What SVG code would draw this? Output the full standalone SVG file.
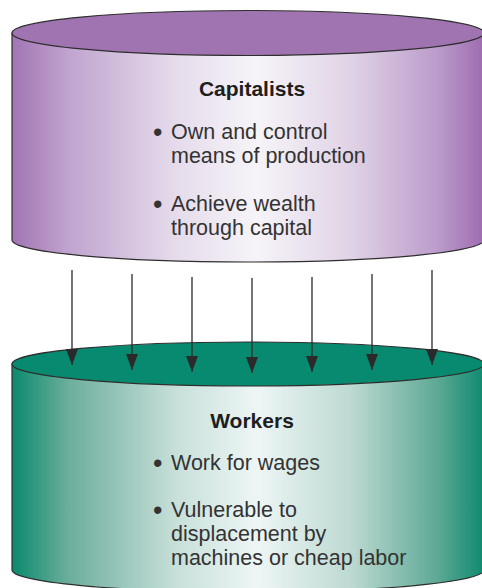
<svg xmlns="http://www.w3.org/2000/svg" width="482" height="588" viewBox="0 0 482 588">
<defs>
<linearGradient id="gp" x1="12" y1="0" x2="484" y2="0" gradientUnits="userSpaceOnUse">
<stop offset="0" stop-color="#a274b4"/>
<stop offset="0.12" stop-color="#c0a4cf"/>
<stop offset="0.35" stop-color="#e6dcec"/>
<stop offset="0.52" stop-color="#f6f4f8"/>
<stop offset="0.72" stop-color="#e0d2e6"/>
<stop offset="0.9" stop-color="#bc9ccb"/>
<stop offset="1" stop-color="#9e6cb0"/>
</linearGradient>
<linearGradient id="gg" x1="12" y1="0" x2="484" y2="0" gradientUnits="userSpaceOnUse">
<stop offset="0" stop-color="#0a8a6e"/>
<stop offset="0.12" stop-color="#6cae9c"/>
<stop offset="0.35" stop-color="#c8e0da"/>
<stop offset="0.52" stop-color="#eef6f5"/>
<stop offset="0.72" stop-color="#bcd9d1"/>
<stop offset="0.9" stop-color="#5ea996"/>
<stop offset="1" stop-color="#0e8b70"/>
</linearGradient>
<marker id="ah" viewBox="0 0 16 12" refX="16" refY="6" markerWidth="16" markerHeight="12" markerUnits="userSpaceOnUse" orient="auto">
<path d="M0,0 L16,6 L0,12 Z" fill="#2a2a2a"/>
</marker>
<style>
.body{stroke:#2e2e2e;stroke-width:1.2}
.t{font-family:"Liberation Sans",Arial,sans-serif;font-size:21.5px;fill:#333}
.b{font-family:"Liberation Sans",Arial,sans-serif;font-size:27px;fill:#333}
.h{font-family:"Liberation Sans",Arial,sans-serif;font-size:21px;font-weight:bold;fill:#1e1e1e;text-anchor:middle}
.c line{stroke:#2a2a2a;stroke-width:1.3}
</style>
</defs>
<g id="capitalists">
<path class="body" d="M12,33 L12,240 A236,22 0 0 0 484,240 L484,33 Z" fill="url(#gp)"/>
<ellipse class="body" cx="248" cy="33" rx="236" ry="22.5" fill="#a074b1"/>
<text class="h" x="252" y="96">Capitalists</text>
<text class="b" x="153" y="141">•</text>
<text class="t" x="171" y="139">Own and control</text>
<text class="t" x="171" y="163">means of production</text>
<text class="b" x="153" y="213">•</text>
<text class="t" x="171" y="211">Achieve wealth</text>
<text class="t" x="171" y="235">through capital</text>
</g>
<g id="workers">
<path class="body" d="M12,364 L12,570 A236,22 0 0 0 484,570 L484,364 Z" fill="url(#gg)"/>
<ellipse class="body" cx="248" cy="364" rx="236" ry="22" fill="#078a6f"/>
<text class="h" x="252" y="428">Workers</text>
<text class="b" x="153" y="472">•</text>
<text class="t" x="171" y="470">Work for wages</text>
<text class="b" x="153" y="519">•</text>
<text class="t" x="171" y="517">Vulnerable to</text>
<text class="t" x="171" y="541">displacement by</text>
<text class="t" x="171" y="565">machines or cheap labor</text>
</g>
<g id="connectors" class="c">
<line x1="72" y1="270" x2="72" y2="365" marker-end="url(#ah)"/>
<line x1="132" y1="274" x2="132" y2="370" marker-end="url(#ah)"/>
<line x1="192" y1="277" x2="192" y2="372" marker-end="url(#ah)"/>
<line x1="252" y1="278" x2="252" y2="373" marker-end="url(#ah)"/>
<line x1="312" y1="277" x2="312" y2="372" marker-end="url(#ah)"/>
<line x1="372" y1="274" x2="372" y2="370" marker-end="url(#ah)"/>
<line x1="432" y1="270" x2="432" y2="365" marker-end="url(#ah)"/>
</g>
</svg>
